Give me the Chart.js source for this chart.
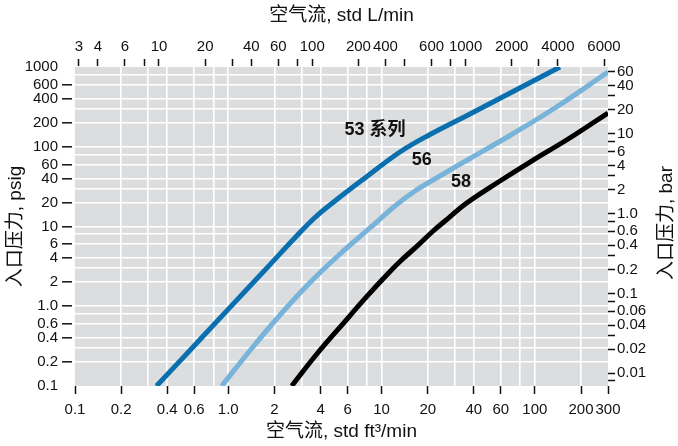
<!DOCTYPE html>
<html><head><meta charset="utf-8">
<script src="https://cdn.jsdelivr.net/npm/chart.js@4.4.1/dist/chart.umd.min.js"></script>
<style>html,body{margin:0;padding:0;background:#fff;}#wrap{width:678px;height:446px;position:relative;}</style>
</head><body><div id="wrap"><canvas id="c"></canvas></div>
<script>
// ---- data (std ft3/min vs psig) ----
const series53Flow  = [0.340, 0.563, 1.026, 1.871, 2.723, 3.678, 4.966, 7.795, 13.18, 20.69, 37.73, 74.18, 145.8];
const series53Press = [0.1, 0.281, 0.967, 3.33, 7.22, 12.97, 20.87, 40.57, 85.96, 142.4, 257.5, 507.5, 1000];
const series56Flow  = [0.906, 1.386, 2.175, 3.412, 5.354, 8.40, 12.23, 16.52, 24.04, 37.73, 68.80, 135.2, 300];
const series56Press = [0.1, 0.279, 0.777, 1.985, 4.521, 9.58, 18.07, 27.87, 42.97, 71.25, 138.4, 306.1, 865];
const series58Flow  = [2.59, 3.77, 5.63, 7.99, 10.8, 13.5, 16.9, 21.7, 27.9, 35.9, 59.2, 97.6, 161, 300];
const series58Press = [0.1, 0.25, 0.611, 1.32, 2.47, 3.80, 5.58, 8.78, 13.2, 19.7, 37.2, 68.2, 121.5, 265];

const seriesNames = ['53 系列', '56', '58'];
const labelFlow  = [9.06, 18.3, 33];
const labelPress = [162, 68.2, 36.6];

// ---- axes ----
const flowMin = 0.1, flowMax = 300;
const pressMin = 0.1, pressMax = 1000;
const litersPerCubicFoot = 28.3168;
const barPerPsi = 0.0689476;

const gridFlowValues = [0.1,0.2,0.3,0.4,0.6,0.8,1,2,3,4,6,8,10,20,30,40,60,80,100,200,300];
const bottomTickValues = [0.1,0.2,0.4,0.6,1,2,4,6,10,20,40,60,100,200,300];
const bottomTickLabels = ['0.1','0.2','0.4','0.6','1.0','2','4','6','10','20','40','60','100','200','300'];

const gridPressValues = [0.1,0.2,0.3,0.4,0.6,0.8,1,2,3,4,6,8,10,20,30,40,60,80,100,200,300,400,600,800,1000];
const leftTickValues = [0.1,0.2,0.4,0.6,1,2,4,6,10,20,40,60,100,200,400,600,1000];
const leftTickLabels = ['0.1','0.2','0.4','0.6','1.0','2','4','6','10','20','40','60','100','200','400','600','1000'];

const topTickValues = [3,4,6,8,10,20,30,40,60,80,100,200,300,400,600,800,1000,2000,3000,4000,8000];
const topTickLabels = ['3','4','6','','10','20','','40','60','','100','200','400','','600','','1000','2000','','4000','6000'];

const rightTickValues = [60,40,30,20,10,8,6,4,3,2,1,0.8,0.6,0.4,0.3,0.2,0.1,0.08,0.06,0.04,0.03,0.02,0.01,0.008];
const rightTickLabels = ['60','40','','20','10','','6','4','','2','1.0','','0.6','0.4','','0.2','0.1','','0.06','0.04','','0.02','0.01',''];

const FONT = "'Liberation Sans', Arial, 'Noto Sans CJK SC', sans-serif";
const INK = '#111';
const CLEAR = 'rgba(0,0,0,0)';

function pts(xs, ys){ return xs.map((x,i)=>({x:x, y:ys[i]})); }
function lookup(vals, labs, v){ const i = vals.indexOf(v); return i>=0 ? labs[i] : ''; }

const plotBg = {
  id:'plotBg',
  beforeDraw(chart){
    const a = chart.chartArea, ctx = chart.ctx;
    ctx.save(); ctx.fillStyle = '#dcdddf';
    ctx.fillRect(a.left, a.top, a.right-a.left, a.bottom-a.top);
    ctx.restore();
  }
};
const extras = {
  id:'extras',
  afterDatasetsDraw(chart){
    const ctx = chart.ctx, sx = chart.scales.x, sy = chart.scales.y;
    ctx.save();
    ctx.fillStyle = INK;
    ctx.font = "bold 18px " + FONT;
    ctx.textAlign = 'center'; ctx.textBaseline = 'middle';
    seriesNames.forEach((t,i)=>{
      ctx.fillText(t, sx.getPixelForValue(labelFlow[i]), sy.getPixelForValue(labelPress[i]));
    });
    ctx.restore();
  },
  afterDraw(chart){
    const ctx = chart.ctx, s = chart.scales.y2;
    ctx.save();
    ctx.fillStyle = INK;
    ctx.font = "19px " + FONT;
    ctx.textAlign = 'center'; ctx.textBaseline = 'middle';
    ctx.translate(s.right - 11, 223);
    ctx.rotate(-Math.PI/2);
    ctx.fillText('入口压力, bar', 0, 0);
    ctx.restore();
  }
};

const tickFont = {family: FONT, size: 15};
const titleFont = {family: FONT, size: 19};

new Chart(document.getElementById('c'), {
  type:'line',
  data:{
    datasets:[
      {label:seriesNames[0], data:pts(series53Flow, series53Press), borderColor:'#0a6fae', borderWidth:5},
      {label:seriesNames[1], data:pts(series56Flow, series56Press), borderColor:'#78b3da', borderWidth:5},
      {label:seriesNames[2], data:pts(series58Flow, series58Press), borderColor:'#000000', borderWidth:5}
    ].map(d=>Object.assign(d,{pointRadius:0, fill:false, tension:0.4, xAxisID:'x', yAxisID:'y'}))
  },
  options:{
    responsive:true, maintainAspectRatio:false, animation:false,
    layout:{padding:0},
    plugins:{legend:{display:false}, tooltip:{enabled:false}},
    scales:{
      xg:{
        type:'logarithmic', position:'top', min:flowMin, max:flowMax,
        afterBuildTicks:(s)=>{ s.ticks = gridFlowValues.map(v=>({value:v})); },
        afterFit:(s)=>{ s.height = 0; },
        border:{display:false},
        grid:{
          color:(c)=> (c.tick && (c.tick.value===flowMin || c.tick.value===flowMax)) ? CLEAR : '#ffffff',
          lineWidth:1.6, drawTicks:false
        },
        ticks:{display:false}
      },
      x:{
        type:'logarithmic', position:'bottom', min:flowMin, max:flowMax,
        afterBuildTicks:(s)=>{ s.ticks = bottomTickValues.map(v=>({value:v})); },
        afterFit:(s)=>{ s.height = 60; },
        border:{display:false},
        grid:{drawOnChartArea:false, tickWidth:1.5, tickLength:8, tickColor:INK},
        ticks:{autoSkip:false, maxRotation:0, minRotation:0, padding:6.5, color:INK, font:tickFont,
          callback:(v)=>lookup(bottomTickValues, bottomTickLabels, v)},
        title:{display:true, text:'空气流, std ft³/min', color:INK, font:titleFont, padding:{top:0,bottom:3}}
      },
      x2:{
        type:'logarithmic', position:'top', min:flowMin*litersPerCubicFoot, max:flowMax*litersPerCubicFoot,
        afterBuildTicks:(s)=>{ s.ticks = topTickValues.map(v=>({value:v})); },
        afterFit:(s)=>{ s.height = 67; },
        border:{display:false},
        grid:{drawOnChartArea:false, tickLength:8, tickWidth:1.5, tickColor:INK, tickBorderDash:[7,100]},
        ticks:{autoSkip:false, maxRotation:0, minRotation:0, padding:3, color:INK, font:tickFont,
          callback:(v)=>lookup(topTickValues, topTickLabels, v)},
        title:{display:true, text:'空气流, std L/min', color:INK, font:titleFont, padding:{top:4,bottom:0}}
      },
      y:{
        type:'logarithmic', position:'left', min:pressMin, max:pressMax,
        afterBuildTicks:(s)=>{ s.ticks = gridPressValues.map(v=>({value:v})); },
        afterFit:(s)=>{ s.width = 75; },
        border:{display:false},
        grid:{
          color:(c)=> (c.tick && (c.tick.value===pressMin || c.tick.value===pressMax)) ? CLEAR : '#ffffff',
          lineWidth:1.6, tickWidth:1.5, tickLength:13, tickBorderDash:[10,100],
          tickColor:(c)=>{ const v=c.tick&&c.tick.value; return (leftTickValues.includes(v) && v!==pressMin && v!==pressMax) ? INK : CLEAR; }
        },
        ticks:{autoSkip:false, padding:4, color:INK, font:tickFont,
          callback:(v)=>lookup(leftTickValues, leftTickLabels, v)},
        title:{display:true, text:'入口压力, psig', color:INK, font:titleFont, padding:{top:4,bottom:0}}
      },
      y2:{
        type:'logarithmic', position:'right', min:pressMin*barPerPsi, max:pressMax*barPerPsi,
        afterBuildTicks:(s)=>{ s.ticks = rightTickValues.map(v=>({value:v})); },
        afterFit:(s)=>{ s.width = 70; },
        border:{display:false},
        grid:{drawOnChartArea:false, tickLength:7, tickWidth:1.5, tickColor:INK},
        ticks:{autoSkip:false, padding:2, color:INK, font:tickFont,
          callback:(v)=>lookup(rightTickValues, rightTickLabels, v)}
      }
    }
  },
  plugins:[plotBg, extras]
});
</script></body></html>
